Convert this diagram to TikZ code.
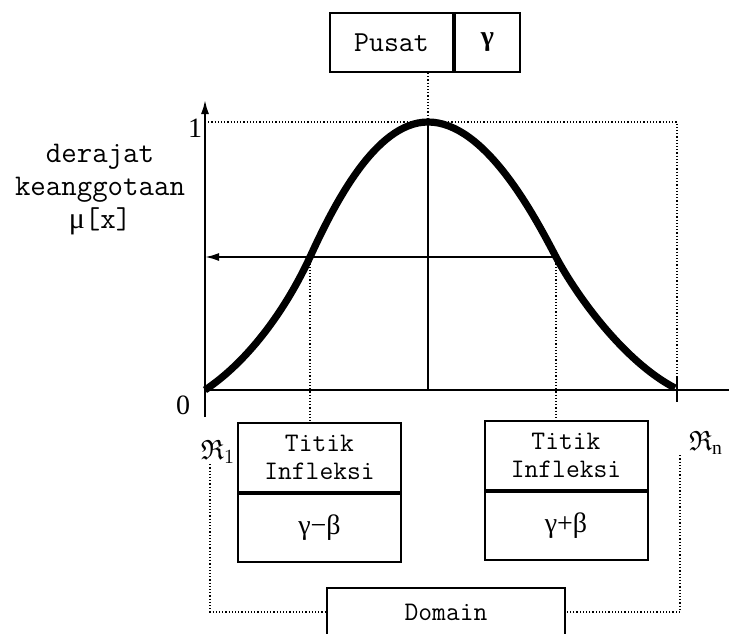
\documentclass[tikz,border=0pt]{standalone}
\usepackage{fontspec}
\usepackage{amssymb}
\setmainfont{Liberation Serif}
\usetikzlibrary{arrows.meta, positioning}

\begin{document}
\begin{tikzpicture}[
        x=0.5pt, y=-0.5pt,
        box/.style={rectangle, draw, line width=1pt, inner sep=0pt, align=center, font=\fontsize{13.4}{14}\selectfont\ttfamily},
        infbox/.style={box, minimum width=81.5pt, minimum height=34.5pt},
        valbox/.style={box, minimum width=81.5pt, minimum height=34pt, font=\fontsize{14}{16}\selectfont},
        axis/.style={line width=1pt},
        curve/.style={line width=3.6pt},
        dot/.style={densely dotted, line width=0.6pt},
        tip/.style={-{Latex[length=7pt, width=4pt]}},
        num/.style={font=\fontsize{14}{16}\selectfont, inner sep=0pt}
    ]
    \useasboundingbox (0,0) rectangle (729,633);

    % Axes and key points
    \coordinate (o) at (205,390);
    \coordinate (ytop) at (205,100);
    \coordinate (ybot) at (205,417);
    \coordinate (xend) at (729,390);
    \coordinate (peak) at (428,122);
    \coordinate (rn) at (677,390);
    \coordinate (rntop) at (677,378);
    \coordinate (rnbot) at (677,402);
    \coordinate (infl) at (310,257);
    \coordinate (infr) at (556,257);

    % Top box: centre
    \node[box, minimum width=61.5pt, minimum height=29.5pt, font=\fontsize{14.5}{16}\selectfont\ttfamily] (pusat) at (391.5,42.5) {Pusat};
    \node[box, minimum width=32.5pt, minimum height=29.5pt, right=0pt of pusat, font=\fontsize{14}{16}\selectfont\bfseries] (gamma) {γ};

    % Inflection boxes
    \node[infbox] (titikL) at (319.5,457.5) {Titik\\Infleksi};
    \node[valbox, below=0pt of titikL] (valL) {\raisebox{-5pt}{γ−β}};
    \node[infbox] (titikR) at (566,455.5) {Titik\\Infleksi};
    \node[valbox, below=0pt of titikR] (valR) {\raisebox{-5pt}{γ+β}};

    % Domain box
    \node[box, minimum width=119pt, minimum height=24pt] (domain) at (446,612) {Domain};

    % Labels
    \node[align=center, font=\fontsize{15}{16.5}\selectfont\ttfamily] (ylabel) at (100,190) {derajat\\keanggotaan\\{\rmfamily μ}[x]};
    \node[num] (one) at (195,128) {1};
    \node[num] (zero) at (183,405) {0};
    \node[num] (lab1) at (218,452) {$\mathfrak{R}_1$};
    \node[num] (labn) at (706,443) {$\mathfrak{R}_\mathrm{n}$};

    % Axes
    \draw[axis, tip] (ybot) -- (ytop);
    \draw[axis] (o) -- (xend);
    \draw[axis] (rntop) -- (rnbot);
    \draw[axis] (peak) -- (peak |- o);
    \draw[axis, tip] (infr) -- (infr -| o);

    % Membership curve
    \draw[curve] (205,390) .. controls (250,360) and (287,307) .. (infl)
        .. controls (333,207) and (375,122) .. (peak)
        .. controls (485,122) and (534,215) .. (infr)
        .. controls (578,298) and (625,362) .. (675,388);

    % Dotted guides
    \draw[dot] (pusat.south -| peak) -- (peak);
    \draw[dot] (ytop |- peak) -| (rn);
    \draw[dot] (infl) -- (infl |- titikL.north);
    \draw[dot] (infr) -- (infr |- titikR.north);
    \draw[dot] ([xshift=-4pt]lab1.south) |- (domain.west);
    \draw[dot] ([xshift=-13pt]labn.south) |- (domain.east);

\end{tikzpicture}
\end{document}
